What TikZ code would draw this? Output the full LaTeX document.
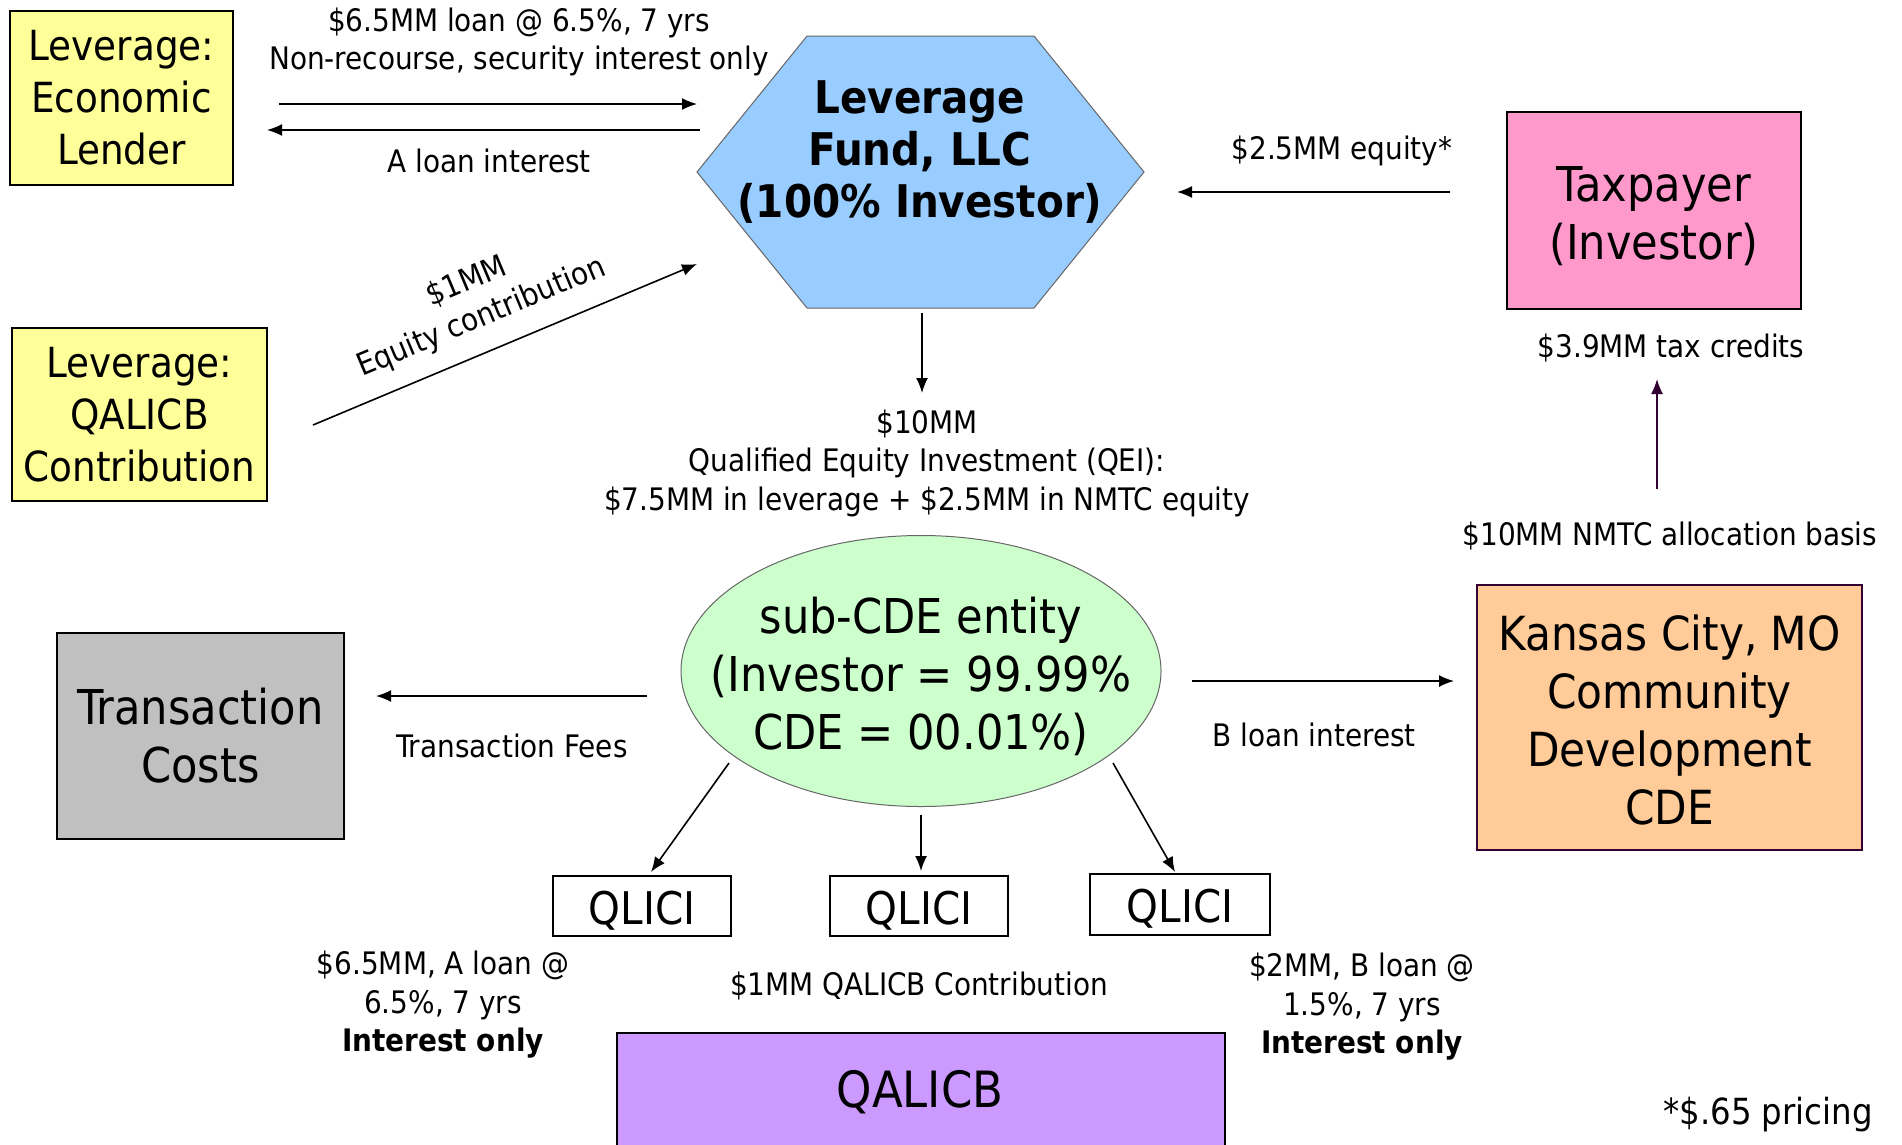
\documentclass[tikz,border=0pt]{standalone}
\usepackage{fontspec}
\setmainfont{DejaVu Sans Condensed}
\usetikzlibrary{arrows.meta,shapes.geometric}
\definecolor{cyellow}{HTML}{FFFF99}
\definecolor{cblue}{HTML}{99CCFF}
\definecolor{cpink}{HTML}{FF99CC}
\definecolor{cgreen}{HTML}{CCFFCC}
\definecolor{cgray}{HTML}{C0C0C0}
\definecolor{corange}{HTML}{FFCC99}
\definecolor{cviolet}{HTML}{CC99FF}
\definecolor{cdark}{HTML}{330033}
\begin{document}
\begin{tikzpicture}[x=1pt,y=-1pt,
  box/.style={draw=black, line width=2pt, inner sep=0pt, align=center},
  big/.style={font=\fontsize{41.5}{52}\selectfont},
  huge/.style={font=\fontsize{48}{58}\selectfont},
  qbox/.style={box, font=\fontsize{45}{50}\selectfont, text height=39pt, text depth=2pt},
  lbl/.style={font=\fontsize{31}{38.5}\selectfont, align=center, inner sep=0pt},
  arr/.style={line width=1.6pt, -{Latex[length=15pt,width=12pt]}},
]
\useasboundingbox (0,0) rectangle (1902,1144);

% boxes
\node[box, big, fill=cyellow, minimum width=223pt, minimum height=174pt] (lender) at (121.5,98) {Leverage:\\Economic\\Lender};
\node[box, big, fill=cyellow, minimum width=255pt, minimum height=173pt] (contrib) at (139.5,414.5) {Leverage:\\QALICB\\Contribution};
\node[box, huge, fill=cpink, minimum width=294pt, minimum height=197pt] (taxpayer) at (1654,210.5) {};
\node[huge, align=center] (taxtext) at (1654,216) {Taxpayer\\(Investor)};
\node[box, huge, fill=cgray, minimum width=287pt, minimum height=206pt] (costs) at (200.5,736) {Transaction\\Costs};
\node[box, fill=corange, draw=cdark, minimum width=385pt, minimum height=265pt] (kc) at (1669.5,717.5) {};
\node[align=center, font=\fontsize{47}{58}\selectfont] (kctext) at (1669.5,720) {Kansas City, MO\\Community\\Development\\CDE};

% hexagon
\draw[fill=cblue, draw=black!60, line width=1pt] (807,36) -- (1034,36) -- (1144,172) -- (1034,308) -- (807,308) -- (697,172) -- cycle;
\node[align=center, font=\bfseries\fontsize{45}{52}\selectfont] (fund) at (920,152) {Leverage\\Fund, LLC\\(100\% Investor)};

% ellipse
\node[ellipse, draw=black!60, line width=1pt, fill=cgreen, minimum width=480pt, minimum height=271pt, inner sep=0pt] (sub) at (921,671) {};
\node[align=center, huge] (subtext) at (921,676) {sub-CDE entity\\(Investor = 99.99\%\\CDE = 00.01\%)};

% QLICI boxes
\node[qbox, minimum width=178pt, minimum height=60pt] (q1) at (642,906) {QLICI};
\node[qbox, minimum width=178pt, minimum height=60pt] (q2) at (919,906) {QLICI};
\node[qbox, minimum width=180pt, minimum height=61pt] (q3) at (1180,904) {QLICI};

% QALICB
\draw[fill=cviolet, line width=2pt] (617,1160) -- (617,1033) -- (1225,1033) -- (1225,1160);
\node[font=\fontsize{50}{56}\selectfont] (qalicb) at (920,1092) {QALICB};

% arrows
\coordinate (a1s) at (279,104); \coordinate (a1e) at (697,104);
\coordinate (a2s) at (700,130); \coordinate (a2e) at (267,130);
\coordinate (a3s) at (313,425); \coordinate (a3e) at (697,264);
\coordinate (a4s) at (922,313); \coordinate (a4e) at (922,393);
\coordinate (a5s) at (1450,192); \coordinate (a5e) at (1177,192);
\coordinate (a6s) at (1657,489); \coordinate (a6e) at (1657,379);
\coordinate (a7s) at (647,696); \coordinate (a7e) at (376,696);
\coordinate (a8s) at (1192,681); \coordinate (a8e) at (1454,681);
\coordinate (a9s) at (729,763); \coordinate (a9e) at (651,872);
\coordinate (a10s) at (921,815); \coordinate (a10e) at (921,871);
\coordinate (a11s) at (1113,763); \coordinate (a11e) at (1175,872);

\draw[arr] (a1s) -- (a1e);
\draw[arr] (a2s) -- (a2e);
\draw[arr] (a3s) -- (a3e);
\draw[arr] (a4s) -- (a4e);
\draw[arr] (a5s) -- (a5e);
\draw[arr, draw=cdark, -{Latex[length=15pt,width=12pt]}] (a6s) -- (a6e);
\draw[arr] (a7s) -- (a7e);
\draw[arr] (a8s) -- (a8e);
\draw[arr] (a9s) -- (a9e);
\draw[arr] (a10s) -- (a10e);
\draw[arr] (a11s) -- (a11e);

% labels
\node[lbl] (l1) at (519,42) {\$6.5MM loan @ 6.5\%, 7 yrs\\Non-recourse, security interest only};
\node[lbl] (l2) at (489,161) {A loan interest};
\node[lbl, rotate=22.7] (l3) at (474,300) {\$1MM\\Equity contribution};
\node[lbl] (l4) at (1342,151) {\$2.5MM equity*};
\node[lbl] (l5) at (927,463) {\$10MM\\Qualified Equity Investment (QEI):\\\$7.5MM in leverage + \$2.5MM in NMTC equity};
\node[lbl] (l6) at (1671,348) {\$3.9MM tax credits};
\node[lbl] (l7) at (1670,536) {\$10MM NMTC allocation basis};
\node[lbl] (l8) at (512,746) {Transaction Fees};
\node[lbl] (l9) at (1314,735) {B loan interest};
\node[lbl] (l10) at (443,1005) {\$6.5MM, A loan @\\6.5\%, 7 yrs\\\textbf{Interest only}};
\node[lbl] (l11) at (919,986) {\$1MM QALICB Contribution};
\node[lbl] (l12) at (1362,1007) {\$2MM, B loan @\\1.5\%, 7 yrs\\\textbf{Interest only}};
\node[lbl, font=\fontsize{36}{40}\selectfont] (l13) at (1768,1115) {*\$.65 pricing};
\end{tikzpicture}
\end{document}
